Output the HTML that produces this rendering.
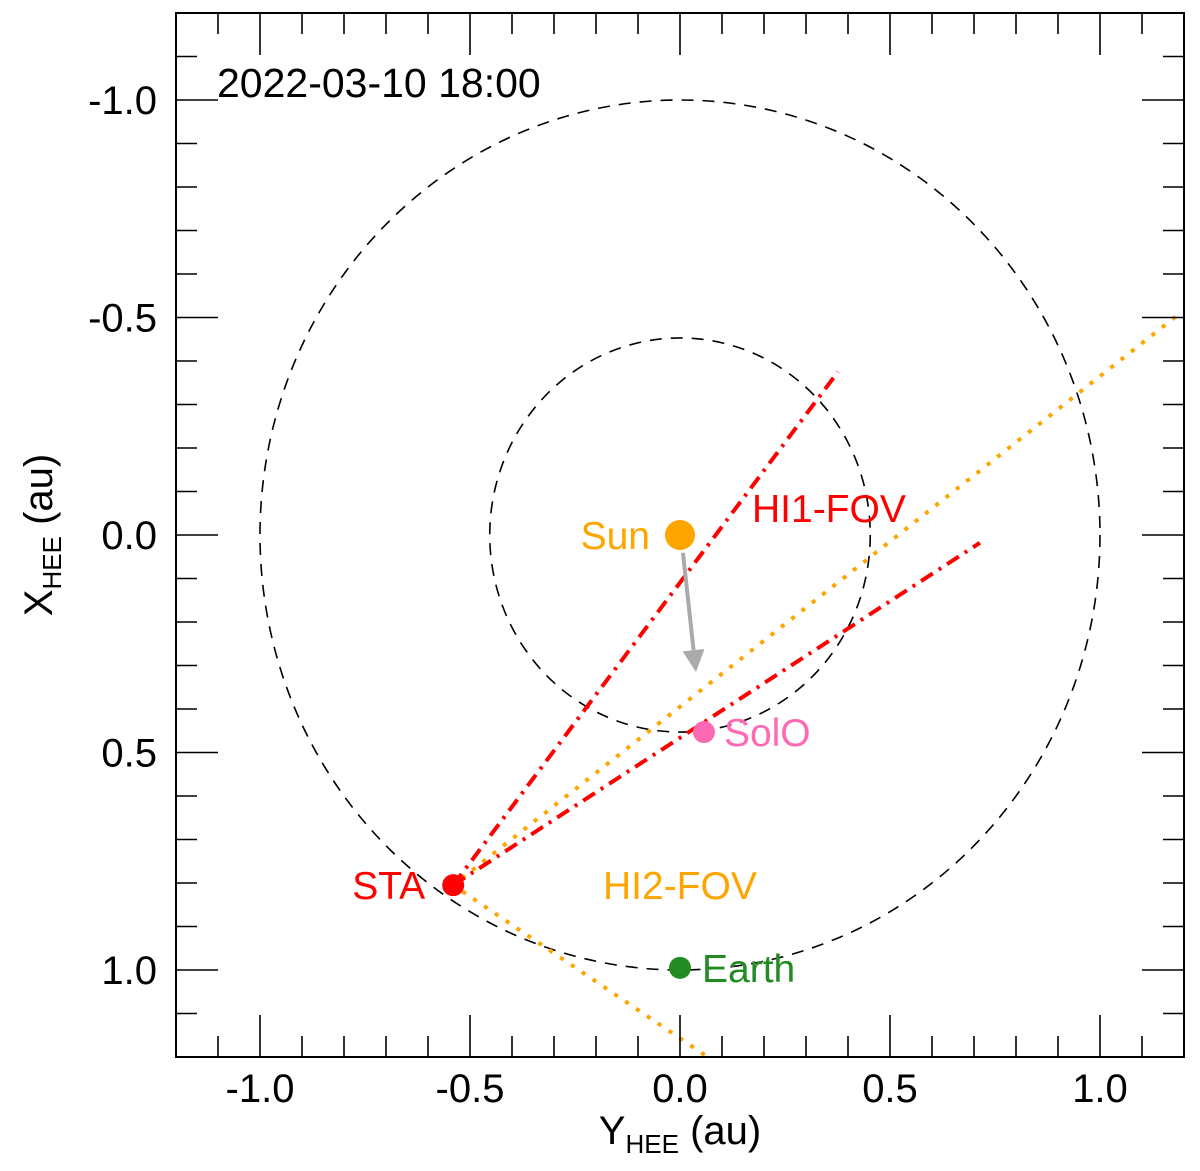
<!DOCTYPE html>
<html><head><meta charset="utf-8"><style>
body{margin:0;background:#fff}
svg text{font-family:"Liberation Sans",Arial,sans-serif}
</style></head><body>
<svg id="chart" width="1200" height="1166" viewBox="0 0 1200 1166" xmlns="http://www.w3.org/2000/svg"></svg>
<script>
const bodyNames=["Sun","SolO","STA","Earth"];
const bodyY=[0.0,0.057,-0.540,0.0];
const bodyX=[0.0,0.453,0.805,0.995];
const bodyColors=["orange","#ff69b4","red","#228b22"];
const bodyRadii=[15,11,11,11];
const orbitRadii=[1.0,0.453];
const xTickLabels=["-1.0","-0.5","0.0","0.5","1.0"];
const xTickValues=[-1.0,-0.5,0.0,0.5,1.0];
const hi1EndsY=[0.376,0.714];
const hi1EndsX=[-0.375,0.018];
const hi2EndsY=[1.20,0.066];
const hi2EndsX=[-0.517,1.20];
const arrowY=[0.007,0.038];
const arrowX=[0.041,0.315];

const L=176,R=1184,T=13,B=1057;
const sx=v=>680+v*420;
const sy=v=>535+v*435;
const svg=document.getElementById('chart');
const NS='http://www.w3.org/2000/svg';
function mk(tag,attrs,parent){const e=document.createElementNS(NS,tag);for(const k in attrs)e.setAttribute(k,attrs[k]);(parent||svg).appendChild(e);return e;}

orbitRadii.forEach((r,i)=>{
  const e=mk('ellipse',{cx:sx(0),cy:sy(0),rx:r*420,ry:r*435,fill:'none',stroke:'#000','stroke-width':1.6,'stroke-dasharray':'12 9'});
  
  
});
const sta=2;
hi2EndsY.forEach((v,i)=>{
  const e=mk('line',{x1:sx(bodyY[sta]),y1:sy(bodyX[sta]),x2:sx(v),y2:sy(hi2EndsX[i]),stroke:'orange','stroke-width':4,'stroke-dasharray':'0.1 13','stroke-linecap':'square'});
  
  
});
hi1EndsY.forEach((v,i)=>{
  const e=mk('line',{x1:sx(bodyY[sta]),y1:sy(bodyX[sta]),x2:sx(v),y2:sy(hi1EndsX[i]),stroke:'red','stroke-width':4,'stroke-dasharray':'14 7 3 7'});
  
  
});
{
  const x1=sx(arrowY[0]),y1=sy(arrowX[0]),x2=sx(arrowY[1]),y2=sy(arrowX[1]);
  const a=Math.atan2(y2-y1,x2-x1);
  const g=mk('g',{});
  
  
  const bx=x2-22*Math.cos(a),by=y2-22*Math.sin(a);
  mk('line',{x1,y1,x2:bx,y2:by,stroke:'#aaa','stroke-width':4},g);
  const px=-Math.sin(a),py=Math.cos(a);
  mk('polygon',{points:`${x2},${y2} ${bx+11*px},${by+11*py} ${bx-11*px},${by-11*py}`,fill:'#aaa'},g);
}
const labelPos=[[-30,'end'],[20,'start'],[-28,'end'],[22,'start']];
bodyNames.forEach((n,i)=>{
  const c=mk('circle',{cx:sx(bodyY[i]),cy:sy(bodyX[i]),r:bodyRadii[i],fill:bodyColors[i]});
  
  
  const t=mk('text',{x:sx(bodyY[i])+labelPos[i][0],y:sy(bodyX[i])+14,'font-size':39,fill:bodyColors[i],'text-anchor':labelPos[i][1]});
  t.textContent=n;
  
  
});
{
  let t=mk('text',{x:752,y:522,'font-size':39,fill:'red'});t.textContent='HI1-FOV';
  
  
  t=mk('text',{x:603,y:899,'font-size':39,fill:'orange'});t.textContent='HI2-FOV';
  
  
  t=mk('text',{x:217,y:97,'font-size':41,fill:'#000'});t.textContent='2022-03-10 18:00';
  
  
}
const fr=mk('rect',{x:L,y:T,width:R-L,height:B-T,fill:'none',stroke:'#000','stroke-width':2});


for(let k=-12;k<=12;k++){
  const v=k/10, major=k%5===0, len=major?42:21;
  const x=sx(v), y=sy(v);
  mk('line',{x1:x,y1:B,x2:x,y2:B-len,stroke:'#000','stroke-width':1.6});
  mk('line',{x1:x,y1:T,x2:x,y2:T+len,stroke:'#000','stroke-width':1.6});
  mk('line',{x1:L,y1:y,x2:L+len,y2:y,stroke:'#000','stroke-width':1.6});
  mk('line',{x1:R,y1:y,x2:R-len,y2:y,stroke:'#000','stroke-width':1.6});
}
xTickValues.forEach((v,i)=>{
  let t=mk('text',{x:sx(v),y:1102,'font-size':40,'text-anchor':'middle'});t.textContent=xTickLabels[i];
  
  
  t=mk('text',{x:157,y:sy(v)+14,'font-size':40,'text-anchor':'end'});t.textContent=xTickLabels[i];
  
  
});
{
  const t=mk('text',{x:680,y:1144,'font-size':40,'text-anchor':'middle'});
  t.innerHTML='Y<tspan font-size="26" dy="9">HEE</tspan><tspan dy="-9"> (au)</tspan>';
  
  
  const t2=mk('text',{x:0,y:0,'font-size':40,'text-anchor':'middle',transform:'translate(52,535) rotate(-90)'});
  t2.innerHTML='X<tspan font-size="26" dy="9">HEE</tspan><tspan dy="-9"> (au)</tspan>';
  
  
}
</script>
</body></html>
